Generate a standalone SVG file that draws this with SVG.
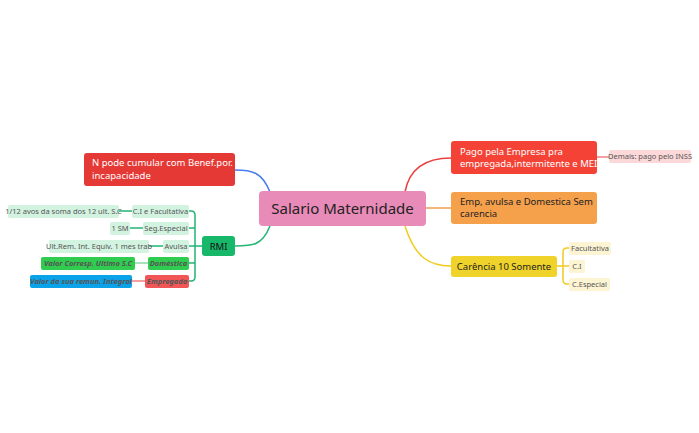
<svg xmlns="http://www.w3.org/2000/svg" width="699" height="433" viewBox="0 0 699 433">
<style>
text{font-family:"Noto Sans","Liberation Sans",sans-serif}
.s{font-size:7.5px;fill:#555}
.m{font-size:9.5px}
.c{fill:none;stroke-width:1.5}
</style>
<rect width="699" height="433" fill="#fff"/>
<g id="connectors">
<path class="c" stroke="#4a7bf0" d="M270 192 C262 172 252 170 235 170"/>
<path class="c" stroke="#22b573" d="M270 226 C262 246 252 246 235 246"/>
<path class="c" stroke="#e84040" d="M405 192 C410 165 430 158 451 158"/>
<path class="c" stroke="#f0a050" d="M426 208 L451 208"/>
<path class="c" stroke="#f0cc20" d="M405 226 C415 258 430 266 451 266"/>
<path class="c" stroke="#f08080" d="M597 157 L609 157"/>
<path class="c" stroke="#22b573" stroke-width="1.2" d="M202 246 H195 M189 211 H191 Q195 211 195 215 V277 Q195 281 191 281 H189 M189 228 H195 M189 246 H195 M189 263 H195 M119 211 H132 M130 228 H143 M149 246 H163"/>
<path class="c" stroke="#8fd9a8" d="M135 263 H148"/>
<path class="c" stroke="#f08080" d="M132 281 H145"/>
<path class="c" stroke="#f0cc20" stroke-width="1.2" d="M557 266 H563 M569 248 H567 Q563 248 563 252 V280 Q563 284 567 284 H569 M563 266 H569"/>
</g>
<g id="center"><rect x="259" y="191" width="167" height="35" rx="4" fill="#e98bb8"/><text x="342.5" y="214" font-size="15" text-anchor="middle" fill="#222">Salario Maternidade</text></g>
<g id="n-left"><rect x="84" y="153" width="151" height="33" rx="3" fill="#e53935"/><text class="m" x="92" y="166" fill="#fff">N pode cumular com Benef.por.</text><text class="m" x="92" y="179" fill="#fff">incapacidade</text></g>
<g id="rmi"><rect x="202" y="236" width="33" height="20" rx="3" fill="#17b86a"/><text class="m" x="218.5" y="249.5" text-anchor="middle" fill="#111">RMI</text></g>
<g id="ci"><rect x="132" y="205" width="57" height="13" rx="2" fill="#d3f3e1"/><text class="s" x="160.5" y="214" text-anchor="middle">C.I e Facultativa</text></g>
<g id="ci-v"><rect x="8" y="205" width="111" height="13" rx="2" fill="#d3f3e1"/><text class="s" x="63.5" y="214" text-anchor="middle">1/12 avos da soma dos 12 ult. S.C</text></g>
<g id="se"><rect x="143" y="222" width="46" height="13" rx="2" fill="#d3f3e1"/><text class="s" x="166" y="231" text-anchor="middle">Seg.Especial</text></g>
<g id="se-v"><rect x="110" y="222" width="20" height="13" rx="2" fill="#d3f3e1"/><text class="s" x="120" y="231" text-anchor="middle">1 SM</text></g>
<g id="av"><rect x="163" y="240" width="26" height="13" rx="2" fill="#d3f3e1"/><text class="s" x="176" y="249" text-anchor="middle">Avulsa</text></g>
<g id="av-v"><rect x="49" y="240" width="100" height="13" rx="2" fill="#d3f3e1"/><text class="s" x="99" y="249" text-anchor="middle">Ult.Rem. Int. Equiv. 1 mes trab</text></g>
<g id="dom"><rect x="148" y="257" width="41" height="13" rx="2" fill="#2fcc4f"/><text class="s" x="168.5" y="266" text-anchor="middle" fill="#111" font-weight="bold" font-style="italic">Doméstica</text></g>
<g id="dom-v"><rect x="41" y="257" width="94" height="13" rx="2" fill="#2fcc4f"/><text class="s" x="88" y="266" text-anchor="middle" fill="#111" font-weight="bold" font-style="italic">Valor Corresp. Ultimo S.C</text></g>
<g id="emp"><rect x="145" y="275" width="44" height="13" rx="2" fill="#f25555"/><text class="s" x="167" y="284" text-anchor="middle" fill="#fff" font-weight="bold" font-style="italic">Empregada</text></g>
<g id="emp-v"><rect x="30" y="275" width="102" height="13" rx="2" fill="#0aa3ea"/><text class="s" x="81" y="284" text-anchor="middle" fill="#111" font-weight="bold" font-style="italic">Valor da sua remun. Integral</text></g>
<g id="pago"><rect x="451" y="141" width="146" height="33" rx="3" fill="#f44336"/><text class="m" x="460" y="155" fill="#fff">Pago pela Empresa pra</text><text class="m" x="460" y="167" fill="#fff">empregada,intermitente e MEI</text></g>
<g id="demais"><rect x="609" y="150" width="82" height="13" rx="2" fill="#fdd8d8"/><text class="s" x="650" y="159" text-anchor="middle">Demais: pago pelo INSS</text></g>
<g id="emp-av"><rect x="451" y="192" width="146" height="32" rx="3" fill="#f5a04b"/><text class="m" x="460" y="205" fill="#222">Emp, avulsa e Domestica Sem</text><text class="m" x="460" y="217" fill="#222">carencia</text></g>
<g id="car"><rect x="451" y="256" width="106" height="21" rx="3" fill="#efd22a"/><text class="m" x="504" y="270" text-anchor="middle" fill="#222">Carência 10 Somente</text></g>
<g id="fac"><rect x="569" y="242" width="42" height="13" rx="2" fill="#fdf4d3"/><text class="s" x="590" y="251" text-anchor="middle">Facultativa</text></g>
<g id="cir"><rect x="569" y="260" width="16" height="13" rx="2" fill="#fdf4d3"/><text class="s" x="577" y="269" text-anchor="middle">C.I</text></g>
<g id="cesp"><rect x="569" y="278" width="41" height="13" rx="2" fill="#fdf4d3"/><text class="s" x="589.5" y="287" text-anchor="middle">C.Especial</text></g>
</svg>
